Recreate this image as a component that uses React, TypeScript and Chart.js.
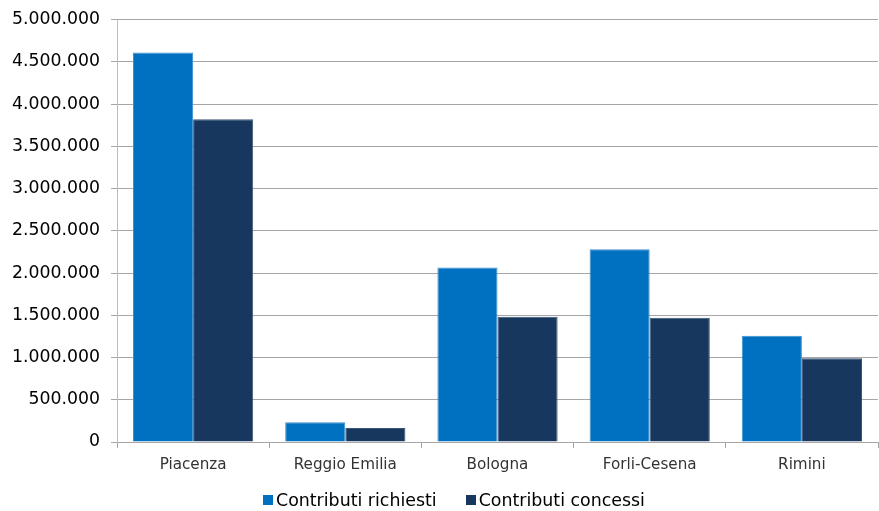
import React, { useEffect, useRef } from "react";
import { Chart, registerables } from "chart.js";

Chart.register(...registerables);

const categories = ["Piacenza", "Reggio Emilia", "Bologna", "Forli-Cesena", "Rimini"];
const richiesti = [4612000, 235000, 2067000, 2282000, 1257000];
const concessi = [3820000, 165000, 1482000, 1470000, 992000];
const seriesNames = ["Contributi richiesti", "Contributi concessi"];
const seriesColors = ["#0070C0", "#17375E"];
const seriesBorders = ["#3d8fd0", "#3a5575"];

function fmtIt(v: number): string {
  const s = Math.round(v).toString();
  return s.replace(/\B(?=(\d{3})+(?!\d))/g, ".");
}

const FONT = "'DejaVu Sans', Verdana, sans-serif";

export default function App() {
  const ref = useRef<HTMLCanvasElement | null>(null);
  useEffect(() => {
    document.body.style.margin = "0";
    const ctx = ref.current!.getContext("2d")!;
    const chart = new Chart(ctx, {
      type: "bar",
      data: {
        labels: categories,
        datasets: [
          {
            label: seriesNames[0],
            data: richiesti,
            backgroundColor: seriesColors[0],
            borderColor: seriesBorders[0],
            borderWidth: 1,
            categoryPercentage: 0.79,
            barPercentage: 1,
          },
          {
            label: seriesNames[1],
            data: concessi,
            backgroundColor: seriesColors[1],
            borderColor: seriesBorders[1],
            borderWidth: 1,
            categoryPercentage: 0.79,
            barPercentage: 1,
          },
        ],
      },
      options: {
        responsive: false,
        animation: false,
        layout: { padding: { top: 16, right: 1, left: 0, bottom: 39 } },
        plugins: {
          legend: { display: false },
          tooltip: { enabled: false },
        },
        scales: {
          x: {
            afterFit: (s: any) => {
              s.height = 30;
            },
            grid: {
              drawOnChartArea: false,
              drawTicks: true,
              tickLength: 6,
              color: "#a6a6a6",
              offset: true,
            },
            border: { color: "#a6a6a6", width: 1 },
            ticks: {
              color: "#333",
              padding: 8,
              font: { family: FONT, size: 15.2, lineHeight: 1.2 },
            },
          },
          y: {
            min: 0,
            max: 5000000,
            afterFit: (s: any) => {
              s.width = 117;
            },
            grid: {
              color: "#a6a6a6",
              tickLength: 6,
            },
            border: { color: "#bdbdbd", width: 1 },
            ticks: {
              stepSize: 500000,
              color: "#000",
              padding: 11,
              font: { family: FONT, size: 17.3, lineHeight: 1 },
              callback: (v: any) => fmtIt(Number(v)),
            },
          },
        },
      },
    });
    return () => chart.destroy();
  }, []);

  const legendItem = (i: number, gapAfter: number) => (
    <div key={i} style={{ display: "flex", alignItems: "center", marginRight: gapAfter }}>
      <span
        style={{
          display: "inline-block",
          width: 10,
          height: 10,
          background: seriesColors[i],
          marginRight: 3,
        }}
      />
      <span style={{ whiteSpace: "nowrap" }}>{seriesNames[i]}</span>
    </div>
  );

  return (
    <div style={{ position: "relative", width: 879, height: 511 }}>
      <canvas ref={ref} width={879} height={511} style={{ display: "block" }} />
      <div
        style={{
          position: "absolute",
          left: 263,
          top: 490,
          height: 20,
          display: "flex",
          alignItems: "center",
          fontFamily: FONT,
          fontSize: 17.4,
          lineHeight: "20px",
          color: "#000",
        }}
      >
        {legendItem(0, 29)}
        {legendItem(1, 0)}
      </div>
    </div>
  );
}
